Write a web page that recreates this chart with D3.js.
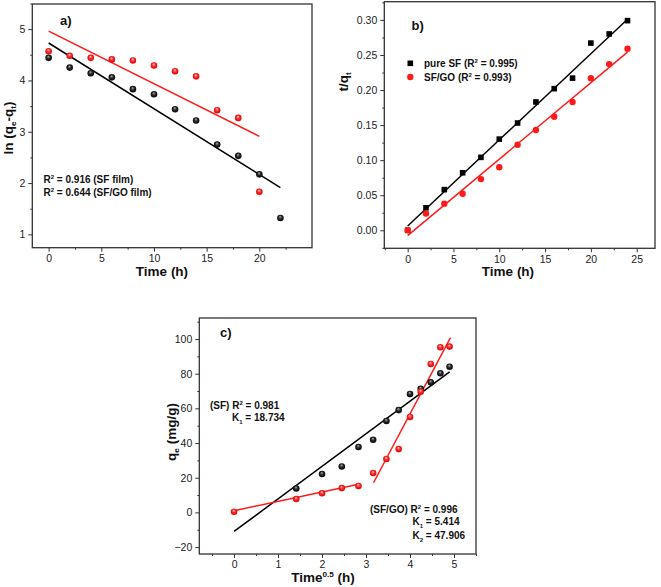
<!DOCTYPE html>
<html><head><meta charset="utf-8">
<script src="https://cdn.jsdelivr.net/npm/d3@7"></script>
<style>
body{margin:0;background:#fff;}
svg text{font-family:"Liberation Sans",Arial,sans-serif;}
</style></head>
<body><svg id="c" width="661" height="587"></svg>
<script>
// ---- Data ----
// Panel a: pseudo-first-order
const aTimeSF = [0,2,4,6,8,10,12,14,16,18,20,22];
const aSF     = [4.44,4.25,4.14,4.06,3.83,3.73,3.44,3.22,2.75,2.53,2.17,1.32];
const aTimeGO = [0,2,4,6,8,10,12,14,16,18,20];
const aGO     = [4.57,4.48,4.44,4.41,4.39,4.29,4.18,4.08,3.42,3.27,1.83];
const aFitSF  = [[0,4.73],[22,1.91]];
const aFitGO  = [[0,4.96],[20,2.91]];
const aXTicks = [0,5,10,15,20];
const aYTicks = [1,2,3,4,5];
// Panel b: pseudo-second-order
const bTime = [0,2,4,6,8,10,12,14,16,18,20,22,24];
const bSF   = [0,0.032,0.058,0.082,0.104,0.130,0.153,0.183,0.202,0.217,0.267,0.280,0.299];
const bGO   = [0,0.024,0.038,0.052,0.073,0.090,0.122,0.143,0.162,0.183,0.217,0.237,0.259];
const bFitSF = [[0,0.006],[24,0.301]];
const bFitGO = [[0,-0.0076],[24,0.254]];
const bXTicks = [0,5,10,15,20,25];
const bYTicks = [0,0.05,0.10,0.15,0.20,0.25,0.30];
// Panel c: intraparticle diffusion
const cXSF = [1.414,2,2.449,2.828,3.162,3.464,3.742,4,4.243,4.472,4.690,4.899];
const cSF  = [13.8,22.1,26.5,37.7,41.9,52.7,59.0,68.3,71.3,75.0,80.2,84.0];
const cXGO = [0,1.414,2,2.449,2.828,3.162,3.464,3.742,4,4.243,4.472,4.690,4.899];
const cGO  = [0.4,7.7,11,14,15.2,22.7,30.8,36.5,55,69.6,85.6,95.2,95.6];
const cFitSF  = [[0,-11],[4.9,81]];
const cFitGO1 = [[0,1],[2.83,16.2]];
const cFitGO2 = [[3.17,17.1],[4.92,100.8]];
const cXTicks = [0,1,2,3,4,5];
const cYTicks = [-20,0,20,40,60,80,100];

const svg = d3.select("#c");
const defs = svg.append("defs");
function ball(id, c0, c1, c2){
  const g = defs.append("radialGradient").attr("id",id).attr("cx","50%").attr("cy","50%").attr("r","55%").attr("fx","45%").attr("fy","30%");
  g.append("stop").attr("offset","0%").attr("stop-color",c0);
  g.append("stop").attr("offset","45%").attr("stop-color",c1);
  g.append("stop").attr("offset","100%").attr("stop-color",c2);
}
ball("gBlack","#b0b0b0","#2a2a2a","#000");
ball("gRed","#ffd0d0","#ff2a2a","#d40000");

function panel(o){
  const x = d3.scaleLinear().domain(o.xd).range([o.L,o.R]);
  const y = d3.scaleLinear().domain(o.yd).range([o.B,o.T]);
  const g = svg.append("g");
  // minor ticks
  const xAx = d3.axisBottom(x).tickValues(o.xt).tickSize(4).tickPadding(3).tickFormat(o.xf||d3.format("d"));
  const xMin = d3.axisBottom(x).tickValues(o.xm).tickSize(2).tickFormat("");
  const yAx = d3.axisLeft(y).tickValues(o.yt).tickSize(4).tickPadding(3).tickFormat(o.yf||d3.format("d"));
  const yMin = d3.axisLeft(y).tickValues(o.ym).tickSize(2).tickFormat("");
  [xAx,xMin].forEach(a=>{
    const s=g.append("g").attr("transform",`translate(0,${o.B})`).call(a);
    s.select(".domain").remove();
    s.selectAll("line").attr("stroke","#333").attr("stroke-width",1);
    s.selectAll("text").attr("font-size",10.5).attr("fill","#222");
  });
  [yAx,yMin].forEach(a=>{
    const s=g.append("g").attr("transform",`translate(${o.L},0)`).call(a);
    s.select(".domain").remove();
    s.selectAll("line").attr("stroke","#333").attr("stroke-width",1);
    s.selectAll("text").attr("font-size",10.5).attr("fill","#222");
  });
  g.append("rect").attr("x",o.L).attr("y",o.T).attr("width",o.R-o.L).attr("height",o.B-o.T)
    .attr("fill","none").attr("stroke","#333").attr("stroke-width",1.3);
  return {g,x,y};
}
function fit(p, pts, col){
  p.g.append("path").attr("d",d3.line().x(d=>p.x(d[0])).y(d=>p.y(d[1]))(pts))
    .attr("stroke",col).attr("stroke-width",1.5).attr("fill","none");
}
function balls(p, xs, ys, grad){
  p.g.selectAll(null).data(xs.map((v,i)=>[v,ys[i]])).enter().append("circle")
    .attr("cx",d=>p.x(d[0])).attr("cy",d=>p.y(d[1])).attr("r",3.3).attr("fill",`url(#${grad})`);
}
function label(sel, parts, x, y, size, anchor){
  const t = svg.append("text").attr("x",x).attr("y",y).attr("font-size",size).attr("font-weight","bold")
    .attr("fill","#111").attr("text-anchor",anchor||"start");
  parts.forEach(p=>{
    const ts=t.append("tspan").text(p.t);
    if(p.s==="sup"){ts.attr("font-size",size*0.6).attr("dy",-size*0.4);}
    else if(p.s==="sub"){ts.attr("font-size",size*0.6).attr("dy",size*0.25);}
    else if(p.s==="back"){ts.attr("dy",p.dy);}
  });
  return t;
}

// ---- Panel a ----
const pa = panel({L:32.3,R:312,T:4,B:247.7,xd:[-1.55,25],yd:[0.74,5.49],
  xt:aXTicks, xm:[2.5,7.5,12.5,17.5,22.5], yt:aYTicks, ym:[1.5,2.5,3.5,4.5,5.5]});
fit(pa,aFitSF,"#000"); fit(pa,aFitGO,"#ff1a1a");
balls(pa,aTimeSF,aSF,"gBlack"); balls(pa,aTimeGO,aGO,"gRed");
label(null,[{t:"a)"}],60,25,13);
label(null,[{t:"R"},{t:"2",s:"sup"},{t:" = 0.916 (SF film)",s:"back",dy:4}],43.5,183,10);
label(null,[{t:"R"},{t:"2",s:"sup"},{t:" = 0.644 (SF/GO film)",s:"back",dy:4}],43.5,196,10);
label(null,[{t:"Time (h)"}],162,276,13.5,"middle");
label(null,[{t:"ln (q"},{t:"e",s:"sub"},{t:"-q",s:"back",dy:-3.4},{t:"t",s:"sub"},{t:")",s:"back",dy:-3.4}],0,0,13.5,"middle")
  .attr("transform","translate(13,128) rotate(-90)");

// ---- Panel b ----
const pb = panel({L:384.3,R:655,T:1.7,B:248.3,xd:[-2.55,27],yd:[-0.0257,0.326],
  xt:bXTicks, xm:[-2.5,2.5,7.5,12.5,17.5,22.5], yt:bYTicks, ym:[-0.025,0.025,0.075,0.125,0.175,0.225,0.275,0.325], yf:d3.format(".2f")});
fit(pb,bFitSF,"#000"); fit(pb,bFitGO,"#ff1a1a");
pb.g.selectAll(null).data(bTime.map((v,i)=>[v,bSF[i]])).enter().append("rect")
  .attr("x",d=>pb.x(d[0])-2.8).attr("y",d=>pb.y(d[1])-2.8).attr("width",5.6).attr("height",5.6).attr("fill","#000");
pb.g.selectAll(null).data(bTime.map((v,i)=>[v,bGO[i]])).enter().append("circle")
  .attr("cx",d=>pb.x(d[0])).attr("cy",d=>pb.y(d[1])).attr("r",3.2).attr("fill","#ff1a1a");
svg.append("rect").attr("x",407.5).attr("y",60.5).attr("width",5.6).attr("height",5.6).attr("fill","#000");
svg.append("circle").attr("cx",410.3).attr("cy",77).attr("r",3.2).attr("fill","#ff1a1a");
label(null,[{t:"pure SF (R"},{t:"2",s:"sup"},{t:" = 0.995)",s:"back",dy:4}],424,67,10);
label(null,[{t:"SF/GO (R"},{t:"2",s:"sup"},{t:" = 0.993)",s:"back",dy:4}],424,81,10);
label(null,[{t:"b)"}],411.5,30,13);
label(null,[{t:"Time (h)"}],508,276,13.5,"middle");
label(null,[{t:"t/q"},{t:"t",s:"sub"}],0,0,13.5,"middle").attr("transform","translate(348,82) rotate(-90)");

// ---- Panel c ----
const pc = panel({L:199.3,R:476,T:318,B:554,xd:[-0.79,5.5],yd:[-24,112.1],
  xt:cXTicks, xm:[-0.5,0.5,1.5,2.5,3.5,4.5,5.5], yt:cYTicks, ym:[-10,10,30,50,70,90,110]});
fit(pc,cFitSF,"#000"); fit(pc,cFitGO1,"#ff1a1a"); fit(pc,cFitGO2,"#ff1a1a");
balls(pc,cXSF,cSF,"gBlack"); balls(pc,cXGO,cGO,"gRed");
label(null,[{t:"c)"}],220,337,13);
label(null,[{t:"(SF) R"},{t:"2",s:"sup"},{t:" = 0.981",s:"back",dy:4}],210,409,10);
label(null,[{t:"K"},{t:"1",s:"sub"},{t:" = 18.734",s:"back",dy:-2.5}],232,421,10);
label(null,[{t:"(SF/GO) R"},{t:"2",s:"sup"},{t:" = 0.996",s:"back",dy:4}],370,513,10);
label(null,[{t:"K"},{t:"1",s:"sub"},{t:" = 5.414",s:"back",dy:-2.5}],412.5,525,10);
label(null,[{t:"K"},{t:"2",s:"sub"},{t:" = 47.906",s:"back",dy:-2.5}],412.5,539,10);
label(null,[{t:"Time"},{t:"0.5",s:"sup"},{t:" (h)",s:"back",dy:5.4}],323,582,13.5,"middle");
label(null,[{t:"q"},{t:"e",s:"sub"},{t:" (mg/g)",s:"back",dy:-3.4}],0,0,13.5,"middle").attr("transform","translate(176,432) rotate(-90)");
</script></body></html>
